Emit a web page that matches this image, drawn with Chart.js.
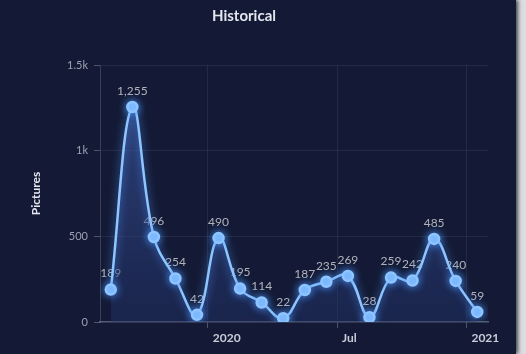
<!DOCTYPE html>
<html>
<head>
<meta charset="utf-8">
<title>Historical</title>
<script src="https://cdn.jsdelivr.net/npm/chart.js@4/dist/chart.umd.min.js"></script>
<style>
  html, body { margin: 0; padding: 0; background: #dcdde3; }
  body { width: 526px; height: 354px; overflow: hidden; }
  #wrap {
    width: 516px; height: 354px; background: #141a35;
    box-shadow: 2px 0 4px rgba(0,0,0,0.7);
    position: relative;
  }
  canvas { display: block; }
</style>
</head>
<body>
<div id="wrap"><canvas id="chart" width="516" height="354"></canvas></div>
<script>
// Monthly picture counts
const months = ['2019-08','2019-09','2019-10','2019-11','2019-12',
                '2020-01','2020-02','2020-03','2020-04','2020-05','2020-06',
                '2020-07','2020-08','2020-09','2020-10','2020-11','2020-12',
                '2021-01'];
const pictures = [189, 1255, 496, 254, 42, 490, 195, 114, 22, 187, 235, 269, 28, 259, 242, 485, 240, 59];

// Axis labels
const tickMonths = ['2020-01','2020-07','2021-01'];
const tickLabels = ['2020','Jul','2021'];
const axisStart = '2019-08';
const axisEnd = '2021-02';

// Months since Jan 2020 (start of month)
function monthIndex(s) {
  const [y, m] = s.split('-').map(Number);
  return (y - 2020) * 12 + (m - 1);
}

const points = months.map((m, i) => ({ x: monthIndex(m) + 0.5, y: pictures[i] }));
const tickValues = tickMonths.map(monthIndex);

const FONT = 'Lato, "Open Sans", sans-serif';

// Soft glow around the series
const glow = {
  id: 'glow',
  beforeDatasetDraw(chart) {
    const c = chart.ctx;
    c.save();
    c.shadowColor = 'rgba(80,150,255,0.85)';
    c.shadowBlur = 9;
  },
  afterDatasetDraw(chart) { chart.ctx.restore(); }
};

// Value labels above each point
const valueLabels = {
  id: 'valueLabels',
  beforeDatasetsDraw(chart) {
    const c = chart.ctx;
    const meta = chart.getDatasetMeta(0);
    c.save();
    c.font = '12px ' + FONT;
    c.fillStyle = 'rgba(205,205,210,0.85)';
    c.textAlign = 'center';
    c.textBaseline = 'middle';
    meta.data.forEach((pt, i) => {
      c.fillText(pictures[i].toLocaleString('en-US'), pt.x, pt.y - 16);
    });
    c.restore();
  }
};

new Chart(document.getElementById('chart'), {
  type: 'line',
  data: {
    datasets: [{
      data: points,
      borderColor: '#8ec5ff',
      borderWidth: 2.5,
      tension: 0.4,
      pointRadius: 5,
      pointBackgroundColor: '#8ec5ff',
      pointBorderColor: '#8ec5ff',
      fill: 'origin',
      backgroundColor(ctx) {
        const area = ctx.chart.chartArea;
        if (!area) return 'rgba(40,60,120,0.5)';
        const g = ctx.chart.ctx.createLinearGradient(0, area.top, 0, area.bottom);
        g.addColorStop(0, 'rgba(70,105,190,0.55)');
        g.addColorStop(1, 'rgba(35,50,105,0.45)');
        return g;
      }
    }]
  },
  options: {
    responsive: false,
    animation: false,
    layout: { padding: { left: 0, right: 28, top: 0, bottom: 0 } },
    plugins: {
      legend: { display: false },
      tooltip: { enabled: false },
      title: {
        display: true,
        text: 'Historical',
        color: '#e4e6ef',
        font: { family: FONT, size: 15, weight: 'bold' },
        padding: { top: 7, bottom: 40 }
      }
    },
    scales: {
      x: {
        type: 'linear',
        min: monthIndex(axisStart),
        max: monthIndex(axisEnd),
        afterBuildTicks(scale) { scale.ticks = tickValues.map(v => ({ value: v })); },
        afterFit(scale) { scale.height = 32; },
        ticks: {
          callback(v) { const i = tickValues.indexOf(v); return i >= 0 ? tickLabels[i] : ''; },
          color: '#c9ccd8',
          font: { family: FONT, size: 12, weight: 'bold' },
          align: 'start',
          labelOffset: 5,
          padding: 3,
          maxRotation: 0
        },
        grid: {
          color: 'rgba(255,255,255,0.07)',
          borderDash: [2, 3],
          tickColor: 'rgba(255,255,255,0.25)',
          tickBorderDash: [],
          tickLength: 6
        },
        border: { color: 'rgba(210,215,230,0.35)', width: 1.5, dash: [] }
      },
      y: {
        min: 0,
        max: 1500,
        afterBuildTicks(scale) { scale.ticks = [0, 500, 1000, 1500].map(v => ({ value: v })); },
        afterFit(scale) { scale.width = 100; },
        ticks: {
          callback(v) { return v >= 1000 ? (v / 1000) + 'k' : String(v); },
          color: '#9da1b2',
          font: { family: FONT, size: 11 },
          padding: 6
        },
        grid: {
          color(ctx) { return ctx.tick && ctx.tick.value === 0 ? 'rgba(0,0,0,0)' : 'rgba(255,255,255,0.07)'; },
          borderDash: [2, 3],
          tickColor: 'rgba(255,255,255,0.25)',
          tickBorderDash: [],
          tickLength: 6
        },
        border: { color: 'rgba(210,215,230,0.2)', width: 1 },
        title: {
          display: true,
          text: 'Pictures',
          color: '#e4e6ef',
          font: { family: FONT, size: 12, weight: 'bold' },
          padding: { top: 29, bottom: 0 }
        }
      }
    }
  },
  plugins: [valueLabels, glow]
});
</script>
</body>
</html>
